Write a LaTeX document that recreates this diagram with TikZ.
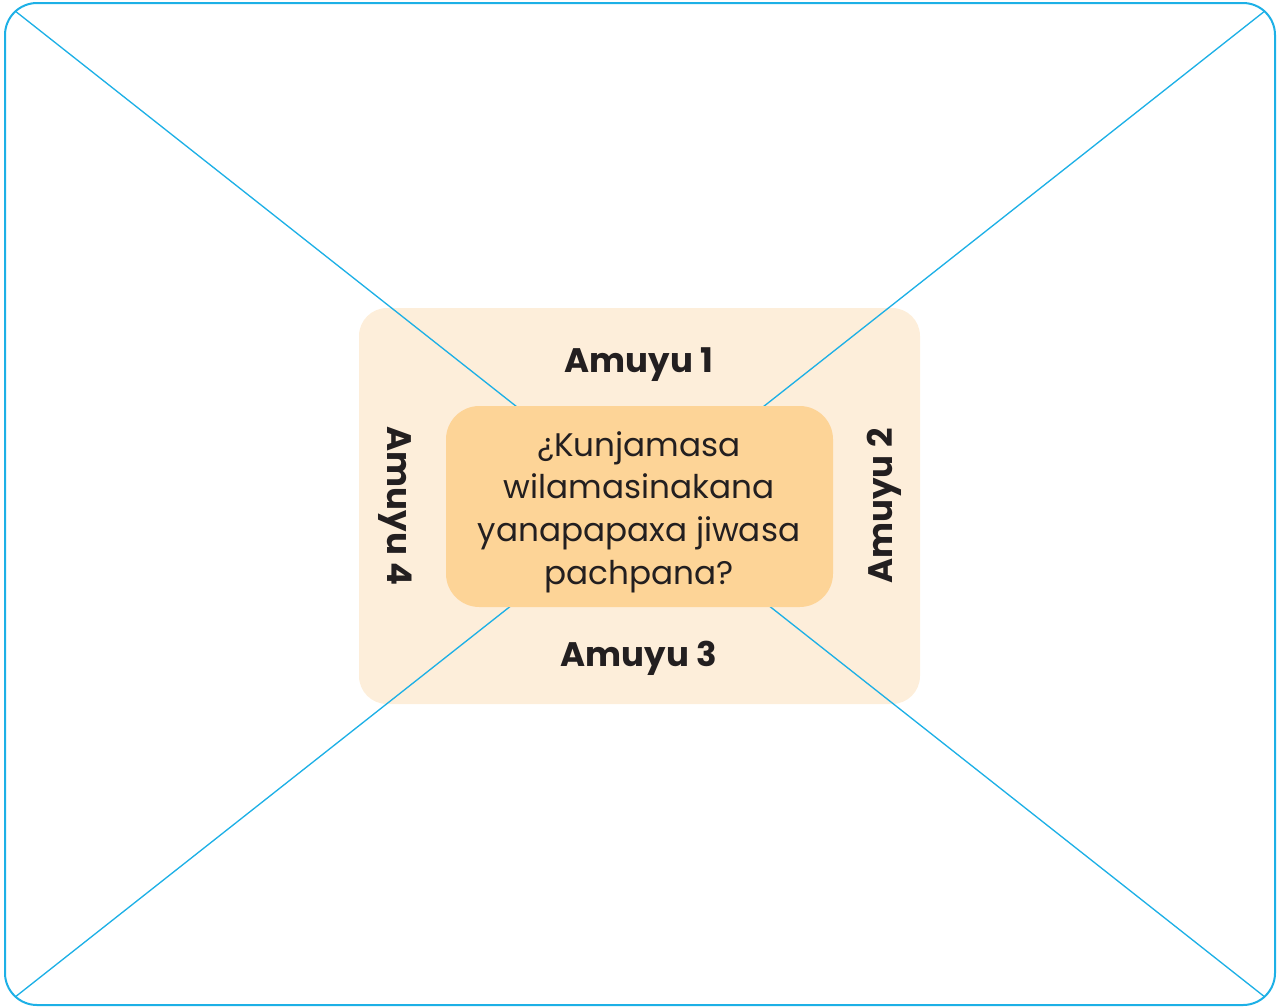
\documentclass[tikz,border=0pt]{standalone}
\usepackage{fontspec}
\setmainfont{Poppins}
\definecolor{framebl}{HTML}{1DB0E6}
\definecolor{paleor}{HTML}{FDEEDA}
\definecolor{deepor}{HTML}{FDD497}
\definecolor{inkgr}{HTML}{231F20}
\tikzset{
  amuyu/.style={font=\fontsize{25.5}{28}\selectfont\bfseries, text=inkgr},
}

\begin{document}
\begin{tikzpicture}[x=0.75pt, y=-0.75pt]
  \useasboundingbox (0,0) rectangle (1282,1007);
  % outer frame
  \coordinate (tl) at (5,3);
  \coordinate (tr) at (1275,3);
  \coordinate (bl) at (5,1005);
  \coordinate (br) at (1275,1005);
  \filldraw[fill=paleor, draw=none, rounded corners=21pt] (359,308) rectangle (920,704);
  \begin{scope}
    \clip[rounded corners=24pt] (tl) rectangle (br);
    \draw[framebl, line width=1pt] (tl) -- (br);
    \draw[framebl, line width=1pt] (tr) -- (bl);
  \end{scope}
  \draw[framebl, line width=1.5pt, rounded corners=24pt] (tl) rectangle (br);
  \filldraw[fill=deepor, draw=none, rounded corners=25pt] (446,406) rectangle (833,607);
  \node[align=center, text=inkgr, font=\fontsize{24.5}{32}\selectfont] (question) at (639,512)
    {¿Kunjamasa\\wilamasinakana\\yanapapaxa jiwasa\\pachpana?};
  \node[amuyu] (amuyuone) at (639,365) {Amuyu 1};
  \node[amuyu, rotate=90] (amuyutwo) at (884,506) {Amuyu 2};
  \node[amuyu] (amuyuthree) at (639,658) {Amuyu 3};
  \node[amuyu, rotate=-90] (amuyufour) at (395,506) {Amuyu 4};
\end{tikzpicture}
\end{document}
